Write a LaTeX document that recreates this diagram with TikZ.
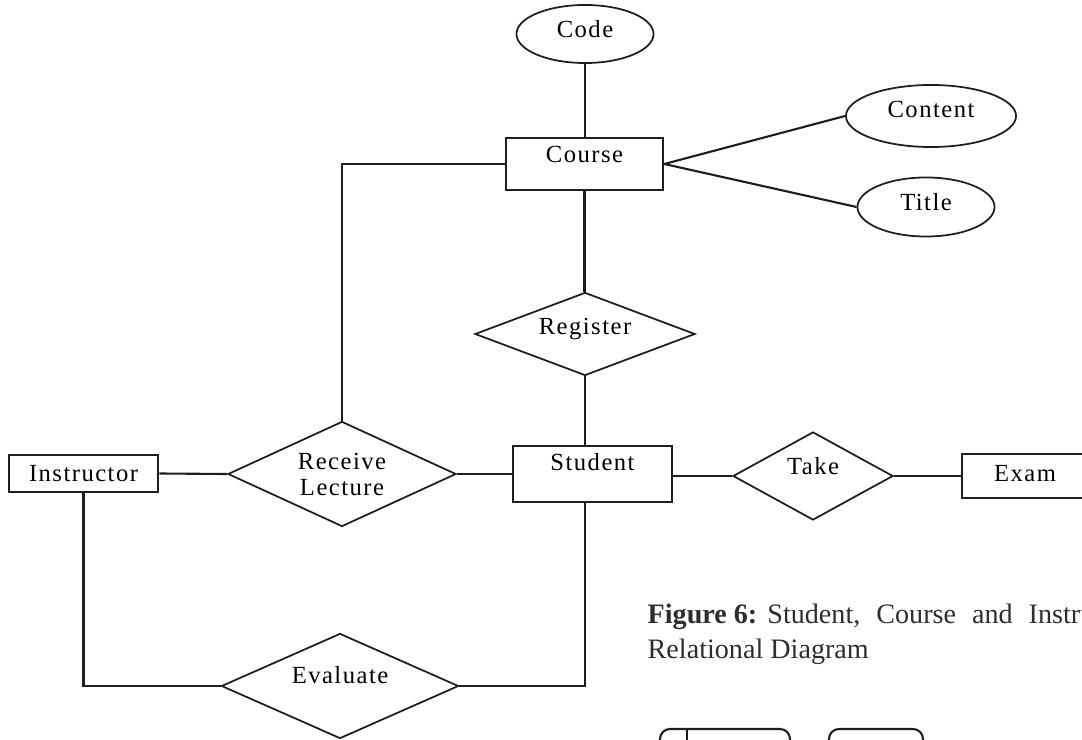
\documentclass[tikz,border=0pt]{standalone}
\usepackage{fontspec}
\setmainfont{Liberation Serif}
\newfontfamily\erfont[LetterSpace=6]{Liberation Serif}
\usetikzlibrary{shapes.geometric}
\tikzset{
  erline/.style={draw=erdark, line width=0.6pt},
  entity/.style={draw=erdark, line width=0.7pt, rectangle, inner sep=0pt, font=\erfont\fontsize{7}{7.4}\selectfont},
  attrib/.style={draw=erdark, line width=0.5pt, ellipse, inner sep=0pt, font=\erfont\fontsize{7}{7.4}\selectfont},
  relship/.style={draw=erdark, line width=0.5pt, diamond, shape aspect=2.3, inner sep=0pt, align=center, font=\erfont\fontsize{7}{7.4}\selectfont},
  textup/.style={text height=2mm, text depth=#1},
}
\begin{document}
\begin{tikzpicture}[x=0.01cm, y=-0.01cm]
\definecolor{erdark}{RGB}{30,30,30}
\definecolor{capgray}{RGB}{45,45,45}
\useasboundingbox (0,0) rectangle (1082,740);
\clip (0,0) rectangle (1082,740);
\node[attrib, textup=1.2mm, minimum width=1.37cm, minimum height=0.58cm] (code) at (585,34) {Code};
\node[attrib, textup=1.6mm, minimum width=1.70cm, minimum height=0.62cm] (content) at (931,116) {Content};
\node[attrib, textup=1.2mm, minimum width=1.37cm, minimum height=0.59cm] (title) at (926,207) {Title};
\node[entity, textup=2.2mm, minimum width=1.57cm, minimum height=0.52cm] (course) at (584.5,164) {Course};
\node[relship, textup=1.8mm, minimum width=2.20cm, minimum height=0.83cm] (register) at (585,334) {Register};
\node[entity, textup=2.6mm, minimum width=1.59cm, minimum height=0.56cm] (student) at (592.5,474) {Student};
\node[relship, minimum width=2.28cm, minimum height=1.05cm] (lecture) at (342,474) {Receive\\Lecture};
\node[entity, minimum width=1.49cm, minimum height=0.37cm] (instructor) at (83.5,473.5) {Instructor};
\node[relship, textup=2.2mm, minimum width=1.60cm, minimum height=0.88cm] (take) at (813,476) {Take};
\node[entity, textup=1mm, minimum width=1.26cm, minimum height=0.44cm] (exam) at (1025,476) {Exam};
\node[relship, textup=2.6mm, minimum width=2.37cm, minimum height=1.05cm] (evaluate) at (340,686) {Evaluate};
\draw[erline] (code.south) -- (code.south |- course.north);
\draw[erline] (course.east) -- (content.west);
\draw[erline] (course.east) -- (title.west);
\draw[erline] (course.west) -| (lecture.north);
\draw[erline] (course.south) -- (course.south |- register.north);
\draw[erline] (register.south) -- (register.south |- student.north);
\draw[erline] (instructor.east) -- (lecture.west);
\draw[erline] (lecture.east) -- (student.west);
\draw[erline] (student.east |- take.west) -- (take.west);
\draw[erline] (take.east) -- (exam.west);
\draw[erline] (instructor.south) |- (evaluate.west);
\draw[erline] (evaluate.east) -| (register.south |- student.south);
\node[anchor=base west, align=left, inner sep=0pt, text=capgray, font=\fontsize{8}{9.7}\selectfont] (caption) at (647,658)
  {\textbf{Figure 6:}\hspace{1mm}{\spaceskip=1.6mm Student, Course and Instructor}\\Relational Diagram};
\draw[erline, rounded corners=1mm] (660,750) -- (660,729) -- (790,729) -- (790,750);
\draw[erline] (687,729) -- (687,750);
\draw[erline, rounded corners=1mm] (829,750) -- (829,729) -- (923,729) -- (923,750);
\end{tikzpicture}
\end{document}
